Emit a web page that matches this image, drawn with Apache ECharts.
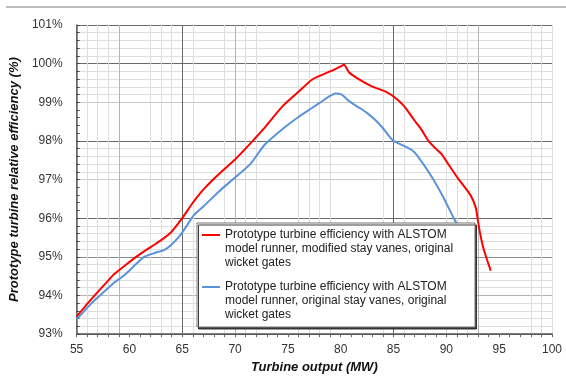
<!DOCTYPE html>
<html>
<head>
<meta charset="utf-8">
<script src="https://cdn.jsdelivr.net/npm/echarts@6/dist/echarts.min.js"></script>
<style>
html,body{margin:0;padding:0;background:#fff;}
#chart{width:566px;height:379px;}
</style>
</head>
<body>
<div id="chart"></div>
<script>
// ---- data ----
const redName = 'Prototype turbine efficiency with ALSTOM\nmodel runner, modified stay vanes, original\nwicket gates';
const blueName = 'Prototype turbine efficiency with ALSTOM\nmodel runner, original stay vanes, original\nwicket gates';
const redX = [55, 56, 56.8, 57.7, 58.6, 59.7, 60.8, 61.7, 62.4, 63.3, 64, 64.5, 65.2, 66, 67.1, 68.5, 70, 71.5, 72.7, 74.5, 76, 77.3, 78.5, 79.5, 80.1, 80.3, 80.8, 81.7, 82.9, 84.2, 85.1, 86, 86.9, 87.6, 88.3, 89, 89.6, 90.3, 91.1, 92.3, 92.8, 92.95, 93.2, 93.5, 94.2];
const redY = [93.45, 93.78, 94.03, 94.3, 94.56, 94.8, 95.03, 95.2, 95.32, 95.49, 95.65, 95.82, 96.08, 96.4, 96.77, 97.15, 97.52, 97.95, 98.31, 98.9, 99.27, 99.59, 99.74, 99.86, 99.94, 99.98, 99.77, 99.6, 99.42, 99.28, 99.13, 98.9, 98.56, 98.31, 98.0, 97.8, 97.64, 97.35, 97.03, 96.59, 96.26, 96.0, 95.6, 95.23, 94.64];
const blueX = [55, 56, 56.8, 57.7, 58.6, 59.6, 60.5, 61.4, 62.4, 63.3, 64, 64.7, 65.3, 66.1, 67.1, 68.5, 70, 71.5, 72.8, 74.5, 76, 77.1, 78.2, 78.9, 79.5, 80.1, 80.5, 80.8, 81.5, 82, 82.6, 83.2, 83.9, 84.5, 85, 86, 86.8, 87.3, 88.55, 89.7, 90.7, 91];
const blueY = [93.38, 93.68, 93.9, 94.12, 94.34, 94.54, 94.78, 95.0, 95.1, 95.18, 95.32, 95.52, 95.75, 96.08, 96.33, 96.7, 97.05, 97.42, 97.9, 98.31, 98.62, 98.82, 99.02, 99.15, 99.23, 99.2, 99.1, 99.03, 98.9, 98.82, 98.7, 98.56, 98.36, 98.15, 98.0, 97.87, 97.75, 97.6, 97.1, 96.55, 96.0, 95.85];
const xTicks = [55, 60, 65, 70, 75, 80, 85, 90, 95, 100];
const yTicks = [93, 94, 95, 96, 97, 98, 99, 100, 101];

// ---- grid line styling (irregular pattern of the scanned original) ----
const NONE = 'rgba(0,0,0,0)', LIGHT = '#dedede', MID = '#b4b4b4', DARK = '#6a6a6a';
const xDarkAt = [65, 85], xMidAt = [59, 70, 93];
const xLightAt = [56,57,58,62,63,64,66,69,71,72,76,77,78,79,84,86,90,91,92,98,99,100];
const xColors = [];
for (let v = 55; v <= 100; v++) {
  if (v === 55) xColors.push('#777');
  else if (xDarkAt.includes(v)) xColors.push(DARK);
  else if (xMidAt.includes(v)) xColors.push(MID);
  else if (xLightAt.includes(v)) xColors.push(LIGHT);
  else xColors.push(NONE);
}
const yDarkAt = [93, 96, 98, 100, 101], yMidAt = [94];
const yMinorBands = [93, 94, 95, 97, 99, 100]; // bands (v..v+1) that have 0.2 minor lines
const yColors = [];
for (let i = 0; i <= 40; i++) {
  const v = Math.round((93 + i * 0.2) * 10) / 10;
  const isInt = Math.abs(v - Math.round(v)) < 1e-6;
  if (isInt) {
    if (yDarkAt.includes(v)) yColors.push(DARK);
    else if (v === 95) yColors.push('#8a8a8a');
    else if (yMidAt.includes(v)) yColors.push(MID);
    else yColors.push('#cacaca');
  } else {
    yColors.push(yMinorBands.includes(Math.floor(v)) ? LIGHT : NONE);
  }
}

const FONT = '"Liberation Sans", Arial, sans-serif';
const chart = echarts.init(document.getElementById('chart'), null, {renderer: 'canvas'});

const legendBase = {
  orient: 'vertical',
  left: 202,
  padding: 0,
  icon: 'rect',
  itemWidth: 18,
  itemHeight: 2,
  z: 10,
  selectedMode: false,
  formatter: n => '\n\n' + n,
  textStyle: {fontFamily: FONT, fontSize: 12, color: '#222', lineHeight: 14}
};

chart.setOption({
  animation: false,
  backgroundColor: '#fff',
  grid: {left: 71, right: 14, top: 25, bottom: 42, containLabel: false},
  xAxis: {
    type: 'value', min: 55, max: 100, interval: 1,
    name: 'Turbine output (MW)', nameLocation: 'middle', nameGap: 26,
    nameTextStyle: {fontFamily: FONT, fontSize: 13, fontWeight: 'bold', fontStyle: 'italic', color: '#111'},
    axisLine: {show: true, lineStyle: {color: '#555', width: 1.5}},
    axisTick: {show: true, length: 3, lineStyle: {color: '#666'}},
    axisLabel: {
      margin: 10, fontFamily: FONT, fontSize: 12, color: '#333',
      formatter: v => (xTicks.includes(Math.round(v)) && Math.abs(v - Math.round(v)) < 1e-6) ? String(Math.round(v)) : ''
    },
    splitLine: {show: true, lineStyle: {color: xColors, width: 1}}
  },
  yAxis: {
    type: 'value', min: 93, max: 101, interval: 0.2,
    name: 'Prototype turbine relative efficiency (%)', nameLocation: 'middle', nameGap: 43,
    nameTextStyle: {fontFamily: FONT, fontSize: 13, fontWeight: 'bold', fontStyle: 'italic', color: '#111'},
    axisLine: {show: true, lineStyle: {color: '#666', width: 1.5}},
    axisTick: {show: true, inside: true, length: 3, lineStyle: {color: '#444'}},
    axisLabel: {
      margin: 14, fontFamily: FONT, fontSize: 12, color: '#333',
      formatter: v => {
        const r = Math.round(v);
        return (Math.abs(v - r) < 1e-6 && yTicks.includes(r)) ? r + '%' : '';
      }
    },
    splitLine: {show: true, lineStyle: {color: yColors, width: 1}}
  },
  legend: [
    Object.assign({}, legendBase, {top: 200, data: [redName]}),
    Object.assign({}, legendBase, {top: 252, data: [blueName]})
  ],
  graphic: [
    {type: 'line', shape: {x1: 6, y1: 7, x2: 566, y2: 7}, style: {stroke: '#bdbdbd', lineWidth: 2}, z: 1},
    {type: 'rect', shape: {x: 197, y: 223, width: 278, height: 104}, z: 5,
     style: {fill: '#fff', stroke: '#777', lineWidth: 1, shadowColor: 'rgba(40,40,40,0.9)', shadowOffsetX: 1.5, shadowOffsetY: 2, shadowBlur: 0}}
  ],
  series: [
    {
      name: redName, type: 'line', smooth: 0.2, symbol: 'none', z: 3,
      lineStyle: {color: '#ff0000', width: 2}, itemStyle: {color: '#ff0000'},
      data: redX.map((x, i) => [x, redY[i]])
    },
    {
      name: blueName, type: 'line', smooth: 0.2, symbol: 'none', z: 3,
      lineStyle: {color: '#5b93d8', width: 2}, itemStyle: {color: '#5b93d8'},
      data: blueX.map((x, i) => [x, blueY[i]])
    }
  ]
});
</script>
</body>
</html>
